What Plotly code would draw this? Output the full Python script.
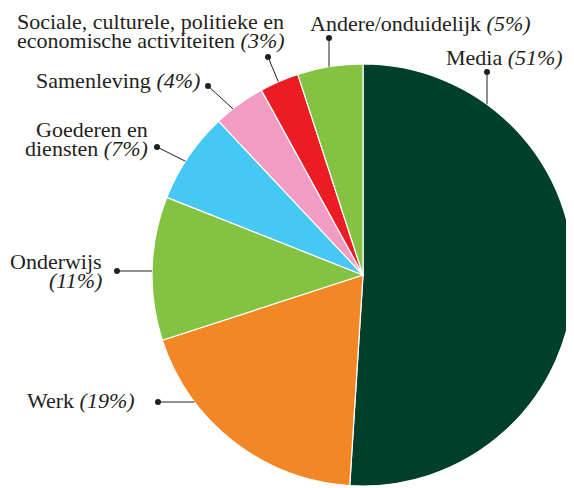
import math
import plotly.graph_objects as go

# ---- data ----
categories = ["Media", "Werk", "Onderwijs", "Goederen en diensten", "Samenleving",
              "Sociale, culturele, politieke en economische activiteiten", "Andere/onduidelijk"]
values = [51, 19, 11, 7, 4, 3, 5]
colors = ["#00402A", "#F38726", "#84C342", "#46C8F4", "#F29BC4", "#EC1C24", "#84C342"]
label_lines = [
    ["Media <i>(51%)</i>"],
    ["Werk <i>(19%)</i>"],
    ["Onderwijs", "<i>(11%)</i>"],
    ["Goederen en", "diensten <i>(7%)</i>"],
    ["Samenleving <i>(4%)</i>"],
    ["Sociale, culturele, politieke en", "economische activiteiten <i>(3%)</i>"],
    ["Andere/onduidelijk <i>(5%)</i>"],
]

# page geometry: the page body has an 8px margin
OFF = 8
W, H = 574 - OFF, 488 - OFF
# pie geometry (page pixels)
CX, CY, R = 363, 275, 211

# label layout (page pixels): text x, first-line centre y, xanchor ; leader dot ; leader direction
label_layout = [
    dict(tx=445, ty=58, xa="left", dot=(487, 72), dir=(0, 1)),
    dict(tx=136, ty=400, xa="right", dot=(158, 402), dir=(1, 0)),
    dict(tx=103, ty=261, xa="right", dot=(117, 271), dir=(1, 0)),
    dict(tx=149, ty=129, xa="right", dot=(157, 147), dir=(26, 13)),
    dict(tx=201, ty=80, xa="right", dot=(208, 86), dir=(24, 22)),
    dict(tx=16, ty=21, xa="left", dot=(268, 57), dir=(10, 24)),
    dict(tx=309, ty=23, xa="left", dot=(329, 38), dir=(0, 1)),
]
LINE_GAP = 19.5
FONT_SIZE = 22


def fx(x):
    return (x - OFF) / W


def fy(y):
    return 1 - (y - OFF) / H


def hit_circle(p, d):
    # ray p + t d hitting the pie circle
    dx, dy = d
    n = math.hypot(dx, dy)
    dx, dy = dx / n, dy / n
    ox, oy = p[0] - CX, p[1] - CY
    b = ox * dx + oy * dy
    c = ox * ox + oy * oy - R * R
    t = -b - math.sqrt(max(b * b - c, 0))
    return p[0] + t * dx, p[1] + t * dy


fig = go.Figure(go.Pie(
    labels=categories,
    values=values,
    marker=dict(colors=colors, line=dict(color="white", width=1.2)),
    sort=False,
    direction="clockwise",
    rotation=0,
    textinfo="none",
    textposition="inside",
    hoverinfo="none",
    domain=dict(x=[fx(CX - R), min(1, fx(CX + R))], y=[max(0, fy(CY + R)), fy(CY - R)]),
))

shapes = []
annotations = []
font = dict(family="Liberation Serif", size=FONT_SIZE, color="#231F20")
for lines, L in zip(label_lines, label_layout):
    ex, ey = hit_circle(L["dot"], L["dir"])
    shapes.append(dict(type="line", xref="paper", yref="paper",
                       x0=fx(L["dot"][0]), y0=fy(L["dot"][1]), x1=fx(ex), y1=fy(ey),
                       line=dict(color="#231F20", width=1)))
    r = 3
    shapes.append(dict(type="circle", xref="paper", yref="paper",
                       x0=fx(L["dot"][0] - r), x1=fx(L["dot"][0] + r),
                       y0=fy(L["dot"][1] + r), y1=fy(L["dot"][1] - r),
                       fillcolor="#231F20", line=dict(width=0)))
    for i, line in enumerate(lines):
        annotations.append(dict(text=line, xref="paper", yref="paper",
                                x=fx(L["tx"]), y=fy(L["ty"] + i * LINE_GAP),
                                xanchor=L["xa"], yanchor="middle", showarrow=False,
                                borderpad=0, font=font))

fig.update_layout(
    width=W, height=H,
    margin=dict(l=0, r=0, t=0, b=0),
    paper_bgcolor="white",
    showlegend=False,
    shapes=shapes,
    annotations=annotations,
)

fig.write_html("out.html")
